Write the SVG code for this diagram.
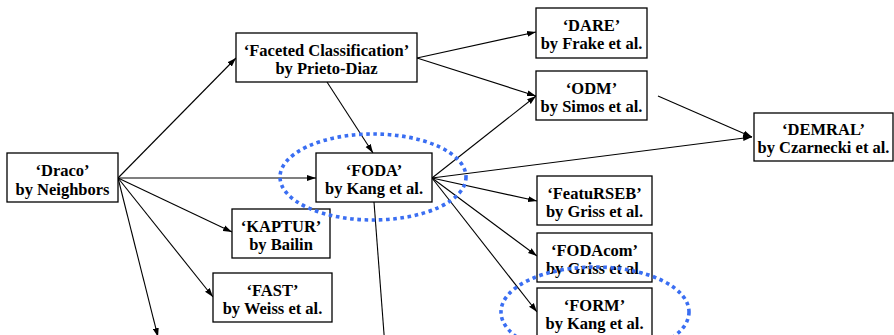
<svg xmlns="http://www.w3.org/2000/svg" width="894" height="335" viewBox="0 0 894 335">
  <style>
    .box { fill: #ffffff; stroke: #000000; stroke-width: 1.3; }
    .lbl { font-family: "Liberation Serif", "Times New Roman", Times, serif; font-weight: bold; font-size: 16.5px; fill: #000000; text-anchor: middle; }
    .edge { stroke: #000000; stroke-width: 1.1; fill: none; }
    .arrow { marker-end: url(#head); }
    .halo { fill: none; stroke: #3a6ef2; stroke-width: 3.6; stroke-dasharray: 3.6 3.6; }
  </style>
  <defs>
    <marker id="head" markerUnits="userSpaceOnUse" markerWidth="9" markerHeight="7" refX="9" refY="3.5" orient="auto">
      <path d="M0,0.5 L9,3.5 L0,6.5 z" fill="#000000"/>
    </marker>
  </defs>
  <rect width="894" height="335" fill="#ffffff"/>

  <g id="connectors">
    <line class="edge arrow" x1="118" y1="178" x2="236" y2="58"/>
    <line class="edge arrow" x1="118" y1="178" x2="316" y2="178"/>
    <line class="edge arrow" x1="118" y1="178" x2="232" y2="232"/>
    <line class="edge arrow" x1="118" y1="178" x2="213" y2="297"/>
    <line class="edge arrow" x1="118" y1="178" x2="158" y2="337"/>
    <line class="edge arrow" x1="417" y1="58" x2="536" y2="32"/>
    <line class="edge arrow" x1="417" y1="58" x2="536" y2="96"/>
    <line class="edge arrow" x1="327" y1="82" x2="373" y2="153"/>
    <line class="edge arrow" x1="432" y1="178" x2="536" y2="96"/>
    <line class="edge arrow" x1="432" y1="178" x2="752" y2="137"/>
    <line class="edge arrow" x1="658" y1="96" x2="752" y2="137"/>
    <line class="edge arrow" x1="432" y1="178" x2="537" y2="201"/>
    <line class="edge arrow" x1="432" y1="178" x2="537" y2="256"/>
    <line class="edge arrow" x1="432" y1="178" x2="537" y2="312"/>
    <line class="edge" x1="374" y1="202" x2="386" y2="360"/>
  </g>

  <g id="draco">
    <rect class="box" x="7" y="153" width="111" height="49"/>
    <text class="lbl" x="62.5" y="176">‘Draco’</text>
    <text class="lbl" x="62.5" y="194.5">by Neighbors</text>
  </g>
  <g id="faceted">
    <rect class="box" x="236" y="33" width="181" height="49"/>
    <text class="lbl" x="326.5" y="55.5">‘Faceted Classification’</text>
    <text class="lbl" x="326.5" y="74">by Prieto-Diaz</text>
  </g>
  <g id="foda">
    <rect class="box" x="316" y="153" width="116" height="49"/>
    <text class="lbl" x="374" y="175.5">‘FODA’</text>
    <text class="lbl" x="374" y="194">by Kang et al.</text>
  </g>
  <g id="kaptur">
    <rect class="box" x="232" y="209" width="98" height="49"/>
    <text class="lbl" x="281" y="231.5">‘KAPTUR’</text>
    <text class="lbl" x="281" y="250">by Bailin</text>
  </g>
  <g id="fast">
    <rect class="box" x="213" y="273" width="119" height="49"/>
    <text class="lbl" x="272.5" y="295.5">‘FAST’</text>
    <text class="lbl" x="272.5" y="314">by Weiss et al.</text>
  </g>
  <g id="dare">
    <rect class="box" x="536" y="8" width="111" height="50"/>
    <text class="lbl" x="591.5" y="30.5">‘DARE’</text>
    <text class="lbl" x="591.5" y="49">by Frake et al.</text>
  </g>
  <g id="odm">
    <rect class="box" x="536" y="71" width="111" height="49"/>
    <text class="lbl" x="591.5" y="93.5">‘ODM’</text>
    <text class="lbl" x="591.5" y="112">by Simos et al.</text>
  </g>
  <g id="demral">
    <rect class="box" x="754" y="113" width="139" height="48"/>
    <text class="lbl" x="823.5" y="134.5">‘DEMRAL’</text>
    <text class="lbl" x="823.5" y="153">by Czarnecki et al.</text>
  </g>
  <g id="featurseb">
    <rect class="box" x="537" y="176" width="115" height="49"/>
    <text class="lbl" x="594.5" y="198.5">‘FeatuRSEB’</text>
    <text class="lbl" x="594.5" y="217">by Griss et al.</text>
  </g>
  <g id="fodacom">
    <rect class="box" x="537" y="233" width="115" height="49"/>
    <text class="lbl" x="594.5" y="255.5">‘FODAcom’</text>
    <text class="lbl" x="594.5" y="274">by Griss et al.</text>
  </g>
  <g id="form">
    <rect class="box" x="537" y="288" width="115" height="49"/>
    <text class="lbl" x="594.5" y="310.5">‘FORM’</text>
    <text class="lbl" x="594.5" y="329">by Kang et al.</text>
  </g>

  <g id="highlights">
    <ellipse class="halo" cx="373" cy="177" rx="93" ry="43"/>
    <ellipse class="halo" cx="595" cy="312" rx="94" ry="45"/>
  </g>
</svg>
